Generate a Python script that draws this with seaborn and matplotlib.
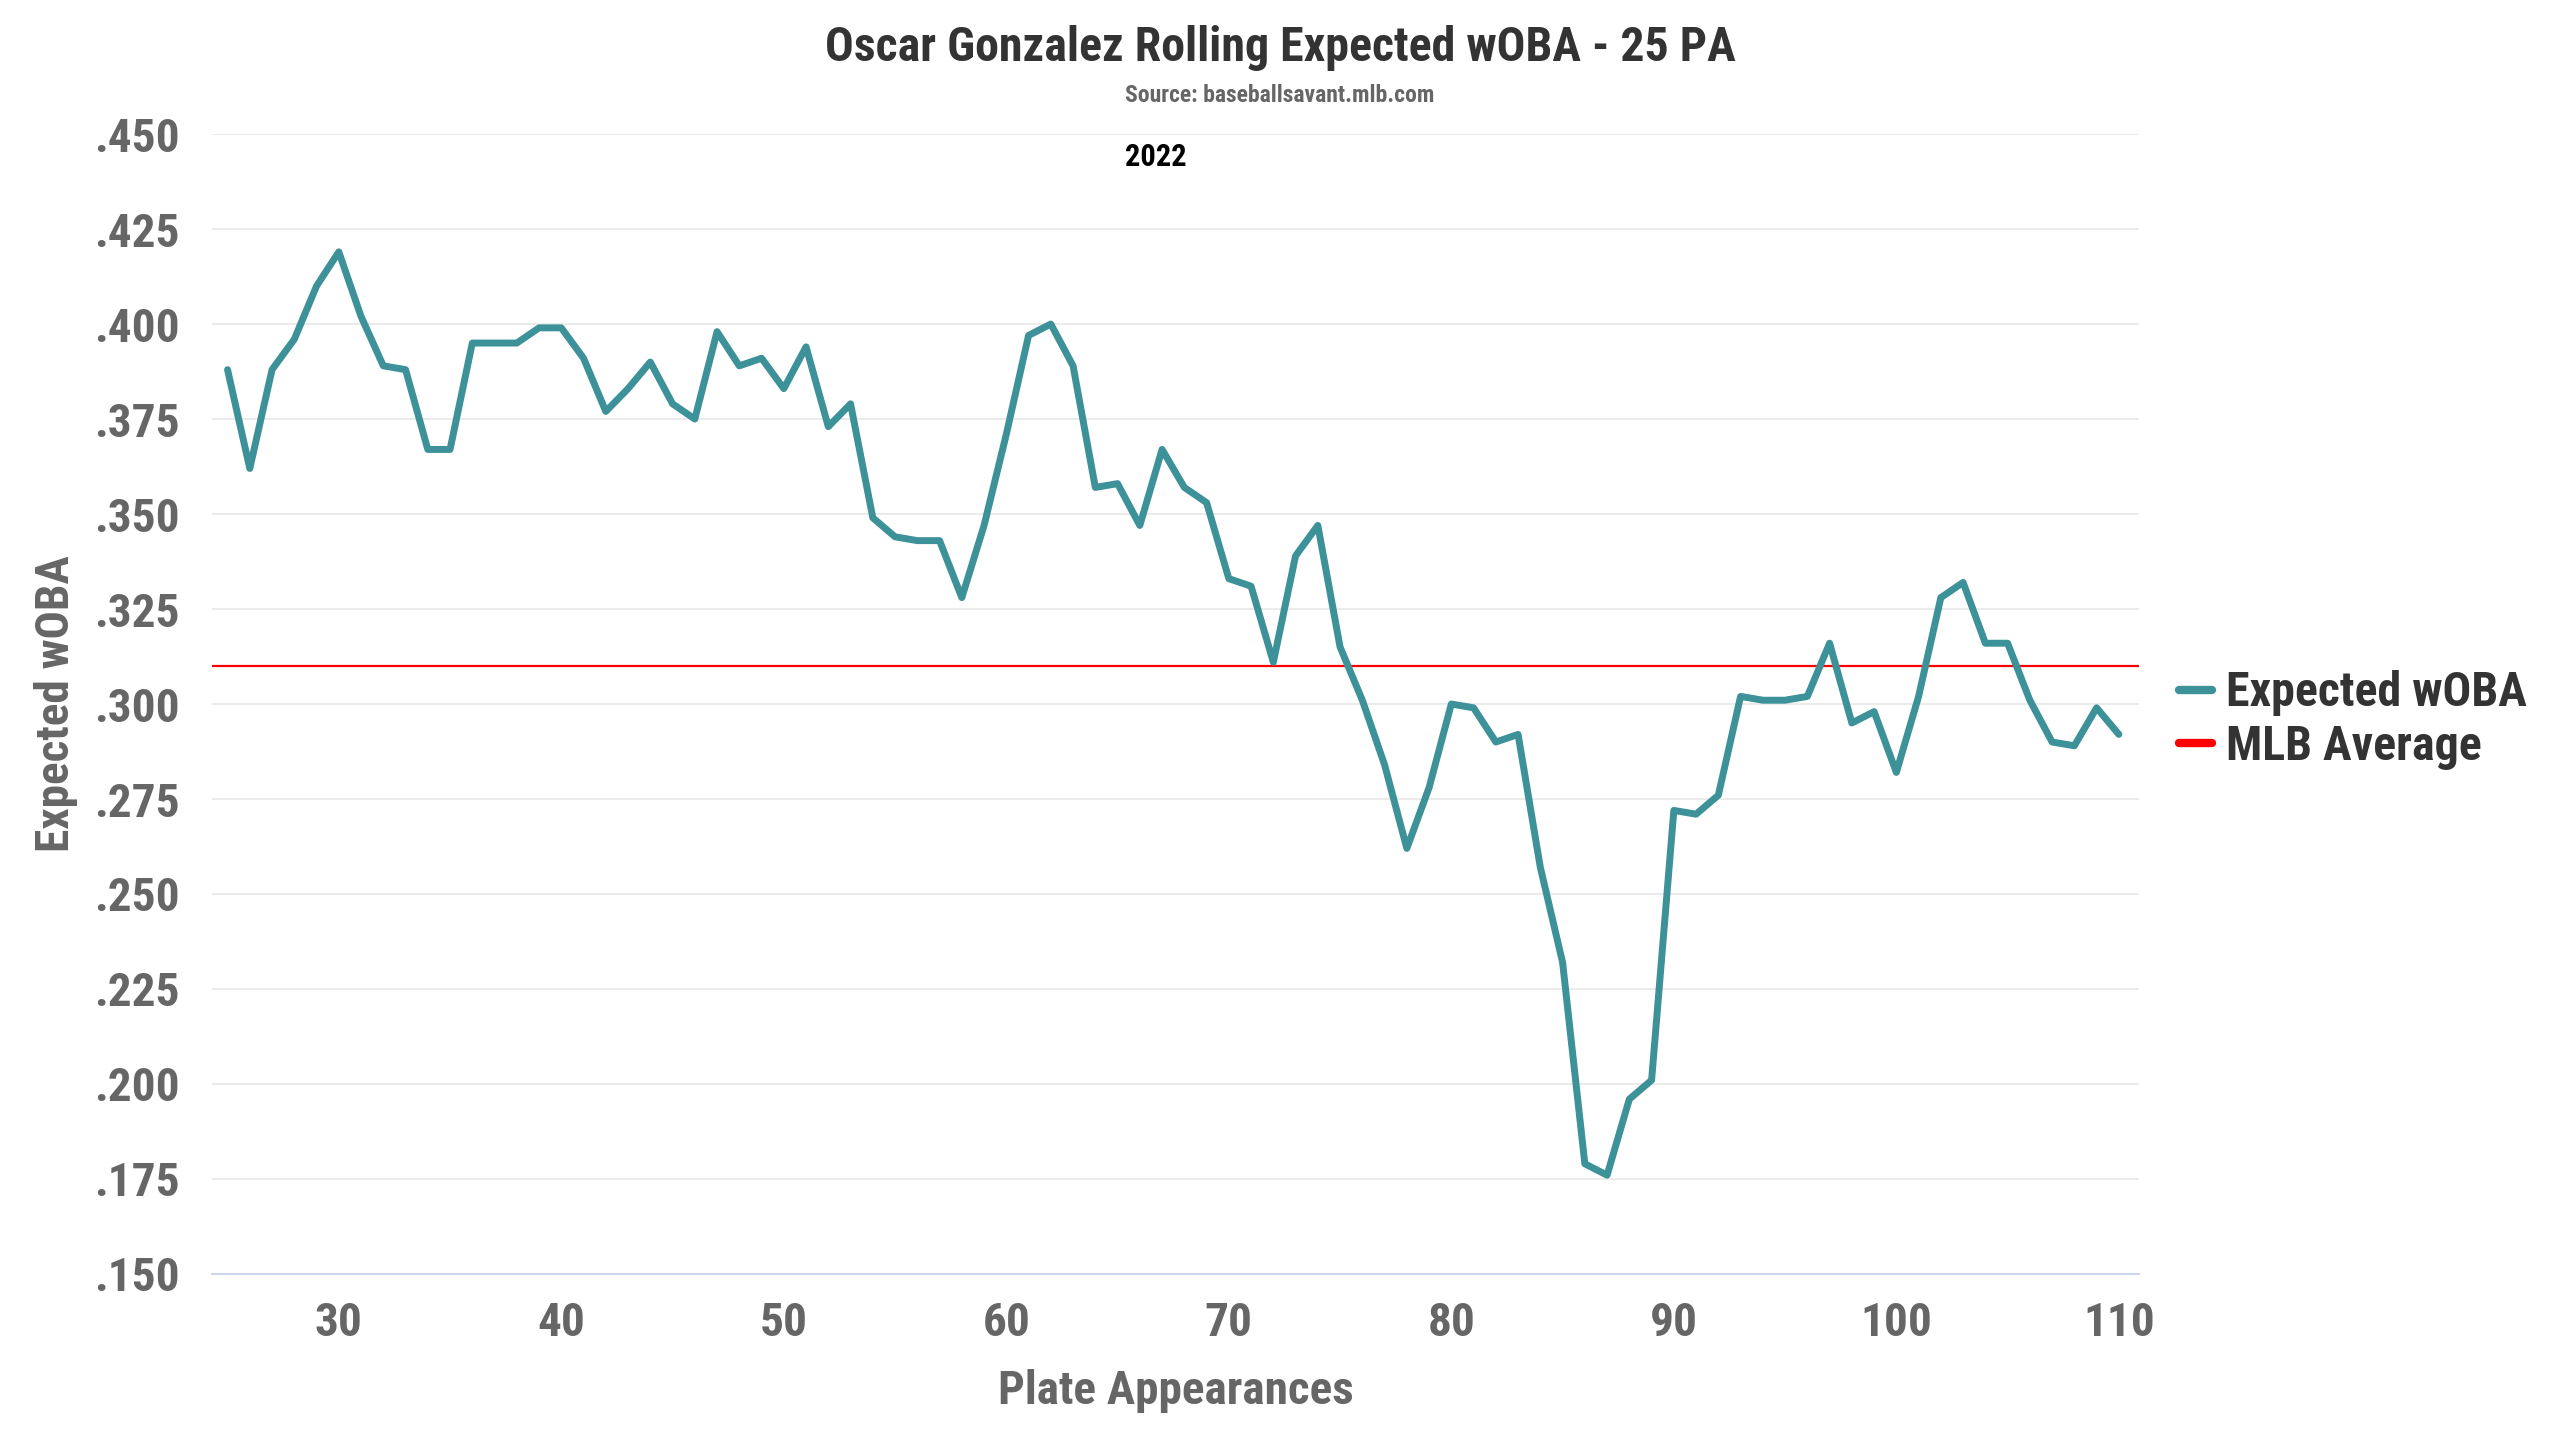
"""
Rolling expected wOBA (25 PA window) for Oscar Gonzalez, 2022.
"""

import numpy as np
import pandas as pd
import matplotlib
matplotlib.use("Agg")
import matplotlib.pyplot as plt
from matplotlib import font_manager
from matplotlib.ticker import FuncFormatter
import seaborn as sns


# data
plate_appearances = list(range(25, 111))
xwoba = [
    .388, .362, .388, .396, .410, .419, .402, .389, .388, .367,   # 25-34
    .367, .395, .395, .395, .399, .399, .391, .377, .383, .390,   # 35-44
    .379, .375, .398, .389, .391, .383, .394, .373, .379, .349,   # 45-54
    .344, .343, .343, .328, .347, .371, .397, .400, .389, .357,   # 55-64
    .358, .347, .367, .357, .353, .333, .331, .311, .339, .347,   # 65-74
    .315, .301, .284, .262, .278, .300, .299, .290, .292, .257,   # 75-84
    .232, .179, .176, .196, .201, .272, .271, .276, .302, .301,   # 85-94
    .301, .302, .316, .295, .298, .282, .302, .328, .332, .316,   # 95-104
    .316, .301, .290, .289, .299, .292,                           # 105-110
]
mlb_average = .310

x_ticks = [30, 40, 50, 60, 70, 80, 90, 100, 110]
y_ticks = [.150, .175, .200, .225, .250, .275, .300, .325, .350, .375, .400, .425, .450]

title = "Oscar Gonzalez Rolling Expected wOBA - 25 PA"
subtitle = "Source: baseballsavant.mlb.com"
season = "2022"

TEAL = "#3D9198"
RED = "#FF0000"
DARK = "#333333"
GREY = "#666666"

df = pd.DataFrame({"pa": plate_appearances, "xwoba": xwoba})

sns.set_style("white")

# pick a condensed font if there is one
names = {f.name for f in font_manager.fontManager.ttflist}
FONT = "Roboto"
for cand in ["Roboto Condensed", "Liberation Sans Narrow", "Roboto"]:
    if cand in names:
        FONT = cand
        break
plt.rcParams["font.family"] = [FONT, "DejaVu Sans"]
plt.rcParams["font.weight"] = "bold"

fig = plt.figure(figsize=(25.6, 14.4), dpi=100)
ax = fig.add_axes([0.0828, 0.1153, 0.7527, 0.7916])

sns.lineplot(data=df, x="pa", y="xwoba", color=TEAL, linewidth=5.0,
             ax=ax, label="Expected wOBA", solid_joinstyle="round")
ax.axhline(mlb_average, color=RED, linewidth=1.6, label="MLB Average", zorder=1)

ax.set_xlim(24.3, 110.9)
ax.set_ylim(.150, .450)
ax.set_xticks(x_ticks)
ax.set_yticks(y_ticks)
ax.yaxis.set_major_formatter(FuncFormatter(lambda v, _: f"{v:.3f}".lstrip("0")))

ax.grid(True, axis="y", color="#E6E6E6", linewidth=1.1)
ax.set_axisbelow(True)
for side in ["left", "right", "top"]:
    ax.spines[side].set_visible(False)
ax.spines["bottom"].set_color("#CCD6EB")
ax.spines["bottom"].set_linewidth(1.5)

ax.tick_params(axis="x", colors="#CCD6EB", length=13, width=1.1, pad=6.5,
               labelsize=34, labelcolor=GREY)
ax.tick_params(axis="y", length=0, pad=23, labelsize=34, labelcolor=GREY)

ax.set_xlabel("Plate Appearances", fontsize=34, color=GREY, fontweight="bold")
ax.set_ylabel("Expected wOBA", fontsize=34, color=GREY, fontweight="bold")
ax.xaxis.set_label_coords(0.5, -0.083)
ax.yaxis.set_label_coords(-0.0695, 0.5)

fig.text(0.5, 0.967, title, ha="center", va="center", fontsize=34.5,
         color=DARK, fontweight="bold")
fig.text(0.5, 0.934, subtitle, ha="center", va="center", fontsize=17,
         color=GREY, fontweight="bold")
fig.text(0.4516, 0.891, season, ha="center", va="center", fontsize=22,
         color="black", fontweight="bold")

leg = ax.legend(loc="center left", bbox_to_anchor=(0.851, 0.5),
                bbox_transform=fig.transFigure, frameon=False, fontsize=34.5,
                handlelength=0.7, handletextpad=0.3, labelspacing=0.15,
                borderpad=0, borderaxespad=0)
for line in leg.get_lines():
    line.set_linewidth(6)
for txt in leg.get_texts():
    txt.set_color(DARK)
    txt.set_fontweight("bold")

plt.savefig("out.png", dpi=100)
plt.close()
